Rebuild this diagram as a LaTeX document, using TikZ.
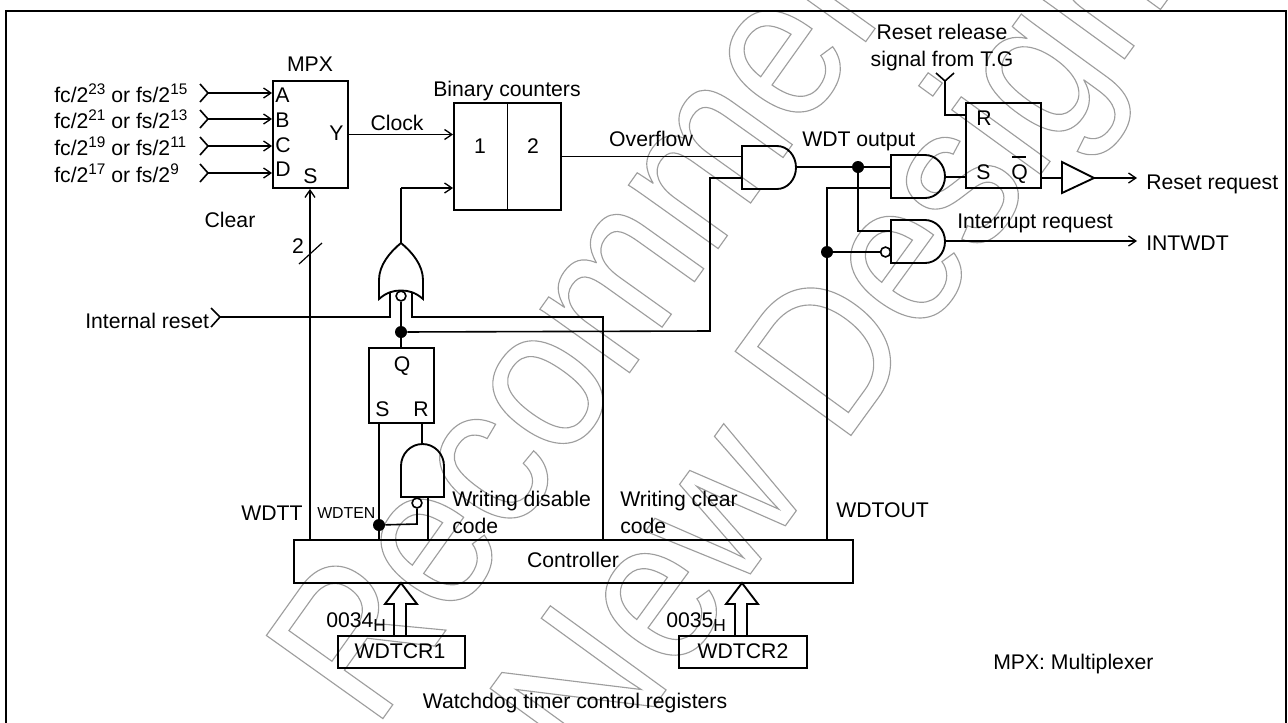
\documentclass[tikz,border=0pt]{standalone}
\usepackage{fontspec}
\setmainfont{Liberation Sans}
\newfontfamily\wmfont[FakeStretch=0.88]{Liberation Sans}
\usetikzlibrary{arrows.meta,calc}
\definecolor{wmgray}{gray}{0.62}
\newcommand\sps[1]{\raisebox{6pt}{\fontsize{11.5}{11.5}\selectfont #1}}
\newcommand\subs[1]{\raisebox{-3.4pt}{\fontsize{13}{13}\selectfont #1}}
\tikzset{
  x=0.75pt,y=-0.75pt,
  wire/.style={line width=1.2pt,line join=miter},
  arr/.style={wire,-{Straight Barb[length=5.5pt,width=7.5pt,line width=1.0pt]}},
  gate/.style={line width=1.4pt,fill=none,line join=miter},
  box/.style={draw,line width=1.4pt,inner sep=0pt,fill=none},
  sz/.style 2 args={minimum width=#1*0.75pt,minimum height=#2*0.75pt},
  lbl/.style={inner sep=0pt,anchor=base west,font=\fontsize{15.9}{17}\selectfont},
  lblc/.style={inner sep=0pt,anchor=base,font=\fontsize{15.9}{17}\selectfont},
  dot/.style={circle,fill=black,draw=none,inner sep=0pt,minimum size=9pt},
  bubble/.style={circle,draw,line width=1.2pt,fill=white,inner sep=0pt,minimum size=7.4pt},
  wm/.style={inner sep=0pt,anchor=base west,text=wmgray,font=\wmfont\fontsize{156}{156}\selectfont},
}
\newcommand\outl[1]{\special{pdf:code 1 Tr 0.85 w}#1\special{pdf:code 0 Tr}}
\begin{document}
\begin{tikzpicture}
\useasboundingbox (0,0) rectangle (1288,722);
% watermark
\begin{scope}
\clip (0,0) rectangle (1288,722);
\node[wm,rotate=54.5] (wm1) at (374,731) {\outl{Recommended}};
\node[wm,rotate=54] (wm2) at (597,785) {\outl{New Design}};
\end{scope}
% frame
\coordinate (fa) at (6,723); \coordinate (fb) at (6,10.5); \coordinate (fc) at (1286,10.5); \coordinate (fd) at (1286,723);
\draw[line width=1.5pt] (fa) -- (fb) -- (fc) -- (fd);
% boxes
\node[box,sz={75}{107}] (mpx) at (310.5,134.5) {};
\node[box,sz={107}{107}] (cnt) at (507.5,156.5) {};
\draw[box] (cnt.north) -- (cnt.south);
\node[box,sz={75}{85}] (sr) at (1003.5,145.5) {};
\node[box,sz={65}{75}] (ff) at (401.5,385.5) {};
\node[box,sz={559}{43}] (ctl) at (573.5,561.5) {};
\node[box,sz={127}{32}] (r1) at (401.5,652) {};
\node[box,sz={128}{32}] (r2) at (743,652) {};
% text
\node[lblc] (tMPX) at (310,71) {MPX};
\node[lbl] (tA) at (275,102) {A};
\node[lbl] (tB) at (275,127) {B};
\node[lbl] (tC) at (275,152) {C};
\node[lbl] (tD) at (275,176) {D};
\node[lbl] (tS) at (303,183) {S};
\node[lbl] (tY) at (329,140) {Y};
\node[lbl] (i1) at (54,102) {fc/2\sps{23} or fs/2\sps{15}};
\node[lbl] (i2) at (54,128) {fc/2\sps{21} or fs/2\sps{13}};
\node[lbl] (i3) at (54,155) {fc/2\sps{19} or fs/2\sps{11}};
\node[lbl] (i4) at (54,182) {fc/2\sps{17} or fs/2\sps{9}};
\node[lblc] (tClock) at (397,130) {Clock};
\node[lblc] (tClear) at (230,227) {Clear};
\node[lblc] (tBin) at (507,96) {Binary counters};
\node[lblc] (t1) at (480,153) {1};
\node[lblc] (t2) at (533,153) {2};
\node[lblc] (tOver) at (651,146) {Overflow};
\node[lbl] (tWDT) at (802,146) {WDT output};
\node[lblc] (tRel1) at (942,39) {Reset release};
\node[lblc] (tRel2) at (942,66) {signal from T.G};
\node[lbl] (tR) at (976,125) {R};
\node[lbl] (tSS) at (976,179) {S};
\node[lbl] (tQb) at (1011,179) {Q};
\node[lbl] (tReset) at (1146,189) {Reset request};
\node[lbl] (tInt) at (957,228) {Interrupt request};
\node[lbl] (tINTW) at (1146,250) {INTWDT};
\node[lbl] (tIR) at (85,328) {Internal reset};
\node[lblc] (t2b) at (298,253) {2};
\node[lblc] (tQ) at (402,371) {Q};
\node[lbl] (tFS) at (375,416) {S};
\node[lbl] (tFR) at (413,416) {R};
\node[lbl] (tWDTT) at (241,520) {WDTT};
\node[lbl,font=\fontsize{11.9}{13}\selectfont] (tWDTEN) at (317,518) {WDTEN};
\node[lbl] (tWd1) at (452,506) {Writing disable};
\node[lbl] (tWd2) at (452,533) {code};
\node[lbl] (tWc1) at (620,506) {Writing clear};
\node[lbl] (tWc2) at (620,533) {code};
\node[lbl] (tOUT) at (836,517) {WDTOUT};
\node[lblc] (tCtl) at (573,567) {Controller};
\node[lbl] (t34) at (326,627) {0034\subs{H}};
\node[lbl] (t35) at (666,627) {0035\subs{H}};
\node[lblc] (tR1) at (400,658) {WDTCR1};
\node[lblc] (tR2) at (743,658) {WDTCR2};
\node[lblc] (tWatch) at (575,708) {Watchdog timer control registers};
\node[lbl] (tMux) at (993,669) {MPX: Multiplexer};
\coordinate (qa) at (1012,157); \coordinate (qb) at (1026,157);
\draw[line width=0.8pt] (qa) -- (qb);
% gates
\draw[gate] (742,146) -- (777,146) .. controls (787.5,146) and (796,155.6) .. (796,167.5) .. controls (796,179.4) and (787.5,189) .. (777,189) -- (742,189) -- cycle;
\draw[gate] (891,155) -- (925,155) .. controls (936,155) and (945,164.6) .. (945,176.5) .. controls (945,188.4) and (936,198) .. (925,198) -- (891,198) -- cycle;
\draw[gate] (891,220) -- (925,220) .. controls (936,220) and (945,229.6) .. (945,241.5) .. controls (945,253.4) and (936,263) .. (925,263) -- (891,263) -- cycle;
\draw[gate] (401,497) -- (401,466) .. controls (401,454) and (410.5,444) .. (422.5,444) .. controls (434.5,444) and (444,454) .. (444,466) -- (444,497) -- cycle;
\draw[gate] (379,280) .. controls (379,265) and (390,252) .. (401,243) .. controls (412,252) and (423,265) .. (423,280) -- (423,299) .. controls (415,292) and (408,290.5) .. (401,290.5) .. controls (394,290.5) and (387,292) .. (379,299) -- cycle;
\draw[gate,line join=miter] (1062,162) -- (1094,178) -- (1062,193) -- cycle;
% named ports
\coordinate (a1o) at (796,167); \coordinate (a1a) at (742,156.5); \coordinate (a1b) at (742,178);
\coordinate (a2a) at (891,167); \coordinate (a2b) at (891,188); \coordinate (a2o) at (945,177);
\coordinate (a3a) at (891,231); \coordinate (a3o) at (945,241);
\coordinate (orT) at (401,243); \coordinate (orL) at (390,293); \coordinate (orR) at (412,293);
\coordinate (buI) at (1062,178); \coordinate (buO) at (1094,178);
\coordinate (a4o) at (422,444); \coordinate (a4r) at (428,497);
\node[bubble] (b1) at (401,296) {};
\node[bubble] (b2) at (417,503) {};
\node[bubble] (b3) at (885.5,252) {};
\node[dot] (d1) at (401,332) {};
\node[dot] (d2) at (379,525) {};
\node[dot] (d3) at (858,167) {};
\node[dot] (d4) at (827,252) {};
% inputs
\foreach \n/\yy in {1/93,2/119,3/146,4/173}{
  \coordinate (c\n) at (208,\yy); \coordinate (cu\n) at (200,\yy-9); \coordinate (cd\n) at (200,\yy+9);
  \draw[wire] (cu\n) -- (c\n) -- (cd\n);
  \draw[arr] (c\n) -- (c\n -| mpx.west);
}
% connectors
\draw[arr] (mpx.east) -- (cnt.west |- mpx.east);
\draw[wire] (cnt.east |- a1a) -- (a1a);
\coordinate (c2in) at (401,188);
\draw[wire] (orT) -- (c2in);
\draw[arr] (c2in) -- (c2in -| cnt.west);
\draw[wire] (a1o) -- (d3);
\draw[wire] (d3) -- (a2a);
\coordinate (d3d) at (858,231);
\draw[wire] (d3) -- (d3d) -- (a3a);
\draw[wire] (a2o) -- (a2o -| sr.west);
\coordinate (wo) at (827,188);
\draw[wire] (wo |- ctl.north) -- (wo) -- (a2b);
\draw[wire] (d4) -- (b3);
\coordinate (a1c) at (710,178); \coordinate (a1d) at (710,331);
\draw[wire] (a1b) -- (a1c) -- (a1d) -- (d1);
\draw[wire] (b1) -- (d1);
\draw[wire] (d1) -- (d1 |- ff.north);
% internal reset
\coordinate (irc) at (220,317); \coordinate (iru) at (211,308); \coordinate (ird) at (211,327);
\draw[wire] (iru) -- (irc) -- (ird);
\coordinate (orLd) at (390,317); \coordinate (orRd) at (412,317); \coordinate (wc) at (603,317);
\draw[wire] (irc) -- (orLd) -- (orL);
\draw[wire] (orR) -- (orRd) -- (wc) -- (wc |- ctl.north);
% WDTT
\coordinate (wt) at (310,539.5);
\draw[arr] (wt) -- (wt |- mpx.south);
\coordinate (sl1) at (299,264); \coordinate (sl2) at (322,243);
\draw[line width=0.9pt] (sl1) -- (sl2);
% FF
\coordinate (fS) at (379,423);
\draw[wire] (fS) -- (fS |- ctl.north);
\coordinate (fR) at (422,423);
\draw[wire] (fR) -- (a4o);
\coordinate (b2d) at (417,524);
\draw[wire] (b2) -- (b2d) -- (d2);
\draw[wire] (a4r) -- (a4r |- ctl.north);
% SR
\coordinate (ru) at (936,73); \coordinate (rv) at (954,73); \coordinate (rc) at (945,81); \coordinate (rd) at (945,115);
\draw[wire] (ru) -- (rc) -- (rv);
\draw[wire] (rc) -- (rd) -- (rd -| sr.west);
\draw[wire] (sr.east |- buI) -- (buI);
\coordinate (rq) at (1137,178);
\draw[arr] (buO) -- (rq);
\coordinate (iw) at (1137,241);
\draw[arr] (a3o) -- (iw);
% bus arrows
\coordinate (ar1a) at (394,636); \coordinate (ar1b) at (406,636);
\coordinate (ar2a) at (735,636); \coordinate (ar2b) at (747,636);
\draw[gate] (ar1a) -- (394,604) -- (385,604) -- (401,583) -- (417,604) -- (406,604) -- (ar1b);
\draw[gate] (ar2a) -- (735,604) -- (726,604) -- (742,583) -- (758,604) -- (747,604) -- (ar2b);
\end{tikzpicture}
\end{document}
